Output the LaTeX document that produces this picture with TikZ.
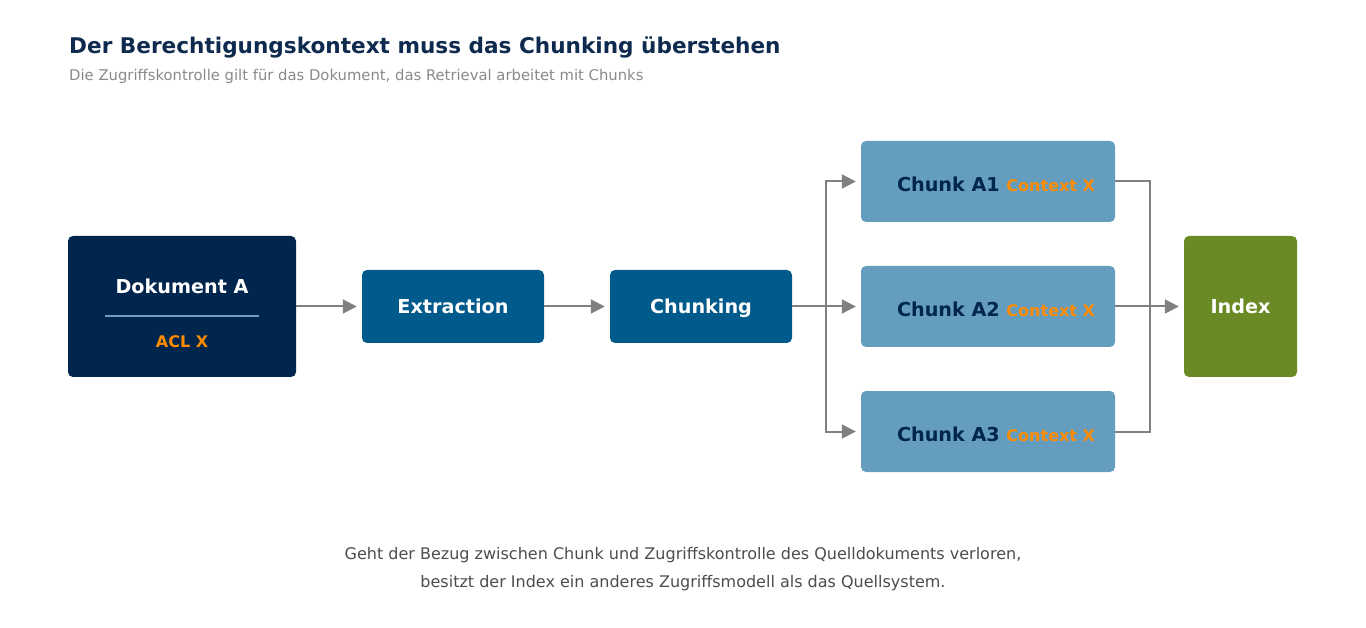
\documentclass[tikz,border=0pt]{standalone}
\usepackage{fontspec}
\setmainfont{DejaVu Sans}
\usetikzlibrary{arrows.meta,positioning}
\definecolor{NavyDark}  {HTML}{00264D}
\definecolor{TitleBlue} {HTML}{0E2A4F}
\definecolor{MidBlue}   {HTML}{005A8C}
\definecolor{SoftBlue}  {HTML}{659DBF}
\definecolor{RuleBlue}  {HTML}{6F9CC4}
\definecolor{OliveGreen}{HTML}{6A8A25}
\definecolor{AclOrange} {HTML}{FF8C00}
\definecolor{ArrowGray} {HTML}{808080}
\definecolor{SubGray}   {HTML}{8A8A8A}
\definecolor{NoteGray}  {HTML}{4D4D4D}
\tikzset{
  box/.style={rectangle,rounded corners=5pt,fill=#1,draw=none,
              font=\fontsize{19.2}{23}\selectfont\bfseries,text=white,
              text height=15pt,text depth=0pt},
  chunkbox/.style={box=SoftBlue,minimum width=254pt,minimum height=81pt,
                   text=NavyDark,text height=20pt},
  ctx/.style={font=\fontsize{16}{19}\selectfont\bfseries\color{AclOrange}},
  line/.style={ArrowGray,line width=2pt},
  arr/.style={line,-{Triangle[length=14pt,width=14pt]},shorten >=5pt},
}
\newcommand{\chunklabel}[1]{\hspace*{16pt}Chunk #1 {\fontsize{16}{19}\selectfont\color{AclOrange}Context X}}

\begin{document}
\begin{tikzpicture}[x=1pt,y=-1pt]
  \useasboundingbox[fill=white] (0,0) rectangle (1366,628);

  \node[anchor=base west,inner sep=0pt,font=\fontsize{21.6}{26}\selectfont\bfseries\color{TitleBlue}]
    (title) at (69,54) {Der Berechtigungskontext muss das Chunking überstehen};
  \node[anchor=base west,inner sep=0pt,font=\fontsize{14.8}{18}\selectfont\color{SubGray}]
    (subtitle) at (69,81) {Die Zugriffskontrolle gilt für das Dokument, das Retrieval arbeitet mit Chunks};

  % source document
  \node[box=NavyDark,minimum width=228pt,minimum height=141pt] (doc) at (182,306.5) {};
  \node[font=\fontsize{19.2}{23}\selectfont\bfseries,text=white] (docname) at (182,286) {Dokument A};
  \draw[RuleBlue,line width=1.5pt] (105,316) -- (259,316);
  \node[ctx] (acl) at (182,342) {ACL X};

  \node[box=MidBlue,minimum width=182pt,minimum height=73pt] (extract) at (453,306.5) {Extraction};
  \node[box=MidBlue,minimum width=182pt,minimum height=73pt] (chunking) at (701,306.5) {Chunking};

  \node[chunkbox] (c1) at (988,181.5) {\chunklabel{A1}};
  \node[chunkbox] (c2) at (988,306.5) {\chunklabel{A2}};
  \node[chunkbox] (c3) at (988,431.5) {\chunklabel{A3}};

  \node[box=OliveGreen,minimum width=113pt,minimum height=141pt] (index) at (1240.5,306.5) {Index};

  \coordinate (split) at (826,306.5);
  \coordinate (join)  at (1150,306.5);

  \draw[arr] (doc.east) -- (extract.west);
  \draw[arr] (extract.east) -- (chunking.west);
  \draw[line] (chunking.east) -- (split);
  \draw[arr] (split) |- (c1.west);
  \draw[arr] (split) -- (c2.west);
  \draw[arr] (split) |- (c3.west);
  \draw[line] (c1.east) -| (join);
  \draw[line] (c3.east) -| (join);
  \draw[arr] (c2.east) -- (index.west);

  \node[align=center,font=\fontsize{16}{28}\selectfont\color{NoteGray}] (note) at (683,569)
    {Geht der Bezug zwischen Chunk und Zugriffskontrolle des Quelldokuments verloren,\\
     besitzt der Index ein anderes Zugriffsmodell als das Quellsystem.};
\end{tikzpicture}
\end{document}
